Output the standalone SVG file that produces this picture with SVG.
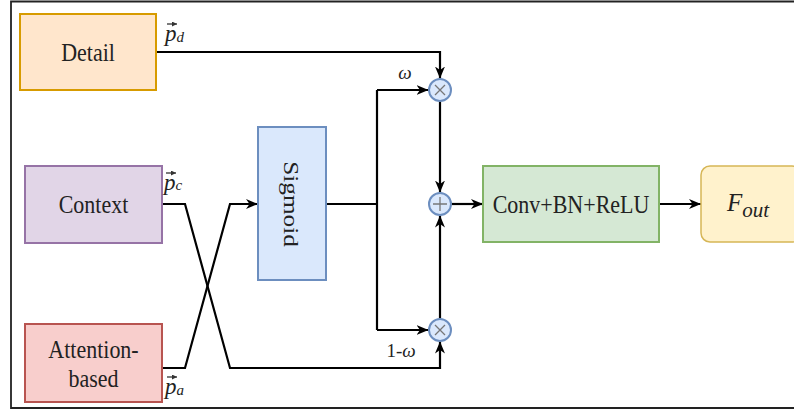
<svg xmlns="http://www.w3.org/2000/svg" width="794" height="412" viewBox="0 0 794 412">
<style>
.t{font-family:"Liberation Serif","Times New Roman",serif;font-size:22px;fill:#222;text-anchor:middle}
.m{font-family:"Liberation Serif","Times New Roman",serif;font-style:italic;fill:#222}
.c{fill:none;stroke:#000;stroke-width:2.2}
.op{fill:#dae8fc;stroke:#6c8ebf;stroke-width:2}
.sym{stroke:#777;stroke-width:1.3}
</style>
<defs>
<marker id="arr" viewBox="0 0 12 12" refX="12" refY="6" markerWidth="12" markerHeight="12" markerUnits="userSpaceOnUse" orient="auto">
<path d="M0,1 L12,6 L0,11 L3.5,6 Z" fill="#000"/>
</marker>
<marker id="sa" viewBox="0 0 6 6" refX="6" refY="3" markerWidth="5" markerHeight="5" markerUnits="userSpaceOnUse" orient="auto">
<path d="M0,0 L6,3 L0,6 Z" fill="#333"/>
</marker>
</defs>
<rect width="794" height="412" fill="#fff"/>
<g id="frame" fill="none" stroke="#222" stroke-width="1.8">
<path d="M794,1.5 H11 V408 H794"/>
</g>
<g id="connectors">
<path class="c" d="M156,52 H440 V78.5" marker-end="url(#arr)"/>
<path class="c" d="M326,204 H377"/>
<path class="c" d="M377,90 V330"/>
<path class="c" d="M377,90 H428.5" marker-end="url(#arr)"/>
<path class="c" d="M377,330 H428.5" marker-end="url(#arr)"/>
<path class="c" d="M440,101.5 V192.5" marker-end="url(#arr)"/>
<path class="c" d="M440,318.5 V215.5" marker-end="url(#arr)"/>
<path class="c" d="M162,204 H185 L230,368 H440 V341.5" marker-end="url(#arr)"/>
<path class="c" d="M162,368 H185 L230,204 H258" marker-end="url(#arr)"/>
<path class="c" d="M451.5,204 H483" marker-end="url(#arr)"/>
<path class="c" d="M659,204 H701" marker-end="url(#arr)"/>
</g>
<g id="detail">
<rect x="20" y="14" width="136" height="76" fill="#ffe6cc" stroke="#d79b00" stroke-width="2"/>
<text class="t" transform="translate(88,61) scale(1,1.18)">Detail</text>
</g>
<g id="context">
<rect x="25" y="166" width="137" height="77" fill="#e1d5e7" stroke="#9673a6" stroke-width="2"/>
<text class="t" transform="translate(93.5,213) scale(1,1.18)">Context</text>
</g>
<g id="attention">
<rect x="25" y="324" width="137" height="78" fill="#f8cecc" stroke="#b85450" stroke-width="2"/>
<text class="t" transform="translate(93.5,358) scale(1,1.18)">Attention-</text>
<text class="t" transform="translate(93.5,387) scale(1,1.18)">based</text>
</g>
<g id="sigmoid">
<rect x="258" y="127" width="68" height="153" fill="#dae8fc" stroke="#6c8ebf" stroke-width="2"/>
<text class="t" transform="translate(284,204) rotate(90) scale(1.15,1)">Sigmoid</text>
</g>
<g id="mul-top">
<circle class="op" cx="440" cy="90" r="11"/>
<path class="sym" d="M435,85 L445,95 M445,85 L435,95"/>
</g>
<g id="add">
<circle class="op" cx="440" cy="204" r="11"/>
<path class="sym" d="M440,197 V211 M433,204 H447"/>
</g>
<g id="mul-bottom">
<circle class="op" cx="440" cy="330" r="11"/>
<path class="sym" d="M435,325 L445,335 M445,325 L435,335"/>
</g>
<g id="conv">
<rect x="483" y="166" width="176" height="76" fill="#d5e8d4" stroke="#82b366" stroke-width="2"/>
<text class="t" transform="translate(571,213) scale(1,1.18)">Conv+BN+ReLU</text>
</g>
<g id="fout">
<rect x="701" y="166" width="100" height="76" rx="9" fill="#fff2cc" stroke="#d6b656" stroke-width="1.5"/>
<text class="m" x="727" y="211" font-size="25">F<tspan font-size="21" dy="6">out</tspan></text>
</g>
<g id="labels">
<text class="m" x="165" y="41" font-size="23">p<tspan font-size="15" dy="1">d</tspan></text>
<path d="M167,24 H177" stroke="#333" stroke-width="1.3" marker-end="url(#sa)"/>
<text class="m" x="164" y="190" font-size="23">p<tspan font-size="15" dy="0">c</tspan></text>
<path d="M166,173 H176" stroke="#333" stroke-width="1.3" marker-end="url(#sa)"/>
<text class="m" x="165" y="394" font-size="23">p<tspan font-size="15" dy="1">a</tspan></text>
<path d="M167,377 H177" stroke="#333" stroke-width="1.3" marker-end="url(#sa)"/>
<text class="m" x="405" y="79" font-size="19" text-anchor="middle">ω</text>
<text x="401" y="357" font-size="19" font-family="Liberation Serif,serif" fill="#222" text-anchor="middle">1-<tspan font-style="italic">ω</tspan></text>
</g>
</svg>
